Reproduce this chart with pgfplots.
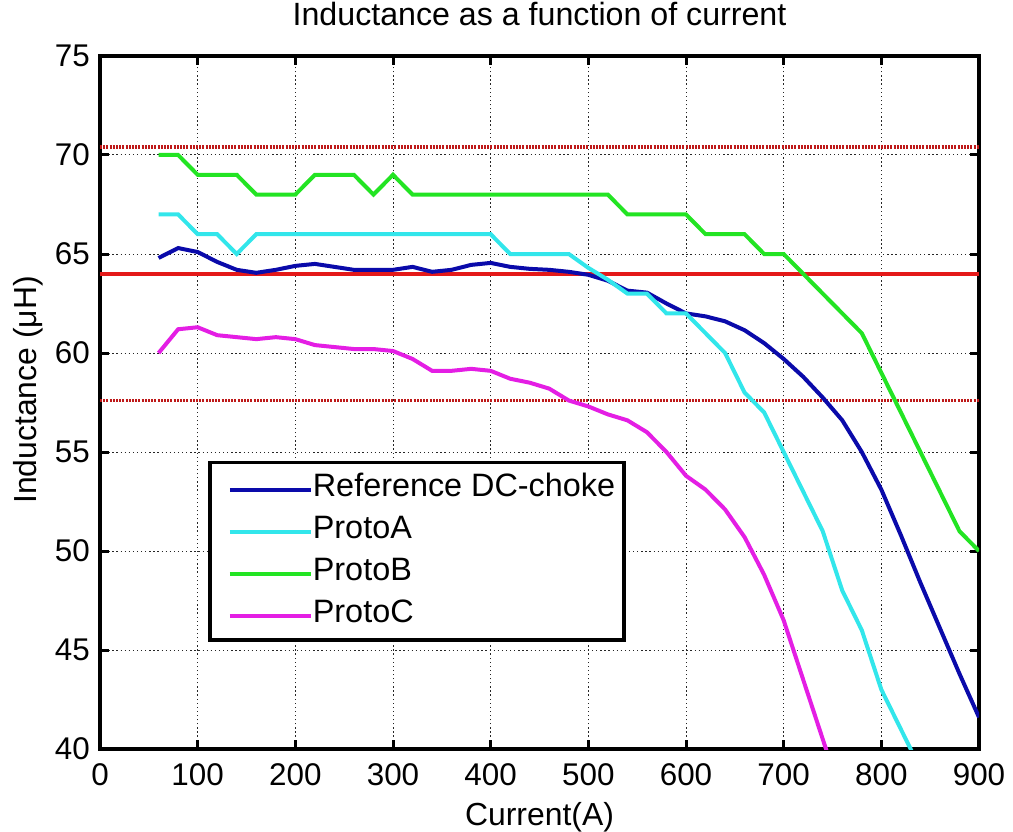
\documentclass[border=0pt]{standalone}
\usepackage{fontspec}
\setmainfont{Liberation Sans}
\usepackage{pgfplots}
\pgfplotsset{compat=1.18}
\definecolor{cblue}{RGB}{10,10,170}
\definecolor{ccyan}{RGB}{50,230,235}
\definecolor{cgreen}{RGB}{35,228,35}
\definecolor{cmag}{RGB}{228,30,228}
\definecolor{cred}{RGB}{228,25,25}
\definecolor{cdred}{RGB}{190,25,25}
\begin{document}
\begin{tikzpicture}
\begin{axis}[
  scale only axis, width=879bp, height=693bp,
  xmin=0, xmax=900, ymin=40, ymax=75,
  xtick={0,100,...,900}, ytick={40,45,...,75},
  tick align=inside, major tick length=9bp,
  every tick/.style={black, line width=3bp},
  axis line style={black, line width=3.2bp},
  grid=major,
  major grid style={black!85, line width=1bp, dash pattern=on 1.3bp off 2.8bp},
  tick label style={font=\fontsize{31.5}{36}\selectfont},
  /pgf/number format/assume math mode=true,
  xticklabel style={anchor=base, yshift=-36bp},
  yticklabel style={anchor=east, inner sep=0pt, xshift=-10bp},
  title={Inductance as a function of current},
  title style={font=\fontsize{32.3}{38}\selectfont, at={(axis description cs:0.5,1)}, anchor=base, yshift=25bp},
  xlabel={Current(A)},
  xlabel style={font=\fontsize{32}{38}\selectfont, at={(axis description cs:0.5,0)}, anchor=base, yshift=-76bp},
  ylabel={Inductance (μH)},
  ylabel style={font=\fontsize{32}{38}\selectfont, at={(axis description cs:-0.0717,0.518)}, anchor=base},
  legend style={at={(axis description cs:0.123,0.4156)}, anchor=north west, draw=black, line width=3.5bp,
    font=\fontsize{32.5}{38}\selectfont, inner xsep=9bp, inner ysep=11bp, row sep=11.8bp,
    nodes={inner sep=0pt, text height=23bp, text depth=7bp},
    /tikz/every even column/.append style={column sep=12bp}},
  legend cell align=left,
  legend image code/.code={\path (-9bp,0bp); \draw[#1] (0bp,-1.5bp) -- (81bp,-1.5bp);},
]
\addplot[forget plot, cred, line width=3.5bp] coordinates {(0,64) (900,64)};
\addplot[forget plot, cdred, line width=3.8bp, dash pattern=on 2bp off 1.2bp] coordinates {(0,70.4) (900,70.4)};
\addplot[forget plot, cdred, line width=3.8bp, dash pattern=on 2bp off 1.2bp] coordinates {(0,57.6) (900,57.6)};

\addplot[cblue, line width=4bp] coordinates {
(60,64.8) (80,65.3) (100,65.1) (120,64.6) (140,64.2) (160,64.05) (180,64.2) (200,64.4)
(220,64.5) (240,64.35) (260,64.2) (280,64.2) (300,64.2) (320,64.35) (340,64.1) (360,64.2)
(380,64.45) (400,64.55) (420,64.35) (440,64.25) (460,64.2) (480,64.1) (500,63.95) (520,63.65)
(540,63.15) (560,63.05) (580,62.5) (600,62.0) (620,61.85) (640,61.6) (660,61.15) (680,60.5)
(700,59.7) (720,58.8) (740,57.75) (760,56.6) (780,55.0) (800,53.1) (820,50.8) (840,48.4)
(860,46.1) (880,43.8) (900,41.6)};
\addlegendentry{Reference DC-choke}

\addplot[ccyan, line width=4bp] coordinates {
(60,67) (80,67) (100,66) (120,66) (140,65) (160,66) (180,66) (200,66) (220,66) (240,66)
(260,66) (280,66) (300,66) (320,66) (340,66) (360,66) (380,66) (400,66) (420,65) (440,65)
(460,65) (480,65) (500,64.3) (520,63.7) (540,63) (560,63) (580,62) (600,62) (620,61) (640,60)
(660,58) (680,57) (700,55) (720,53) (740,51) (760,48) (780,46) (800,43) (820,41) (840,39)};
\addlegendentry{ProtoA}

\addplot[cgreen, line width=4bp] coordinates {
(60,70) (80,70) (100,69) (120,69) (140,69) (160,68) (180,68) (200,68) (220,69) (240,69)
(260,69) (280,68) (300,69) (320,68) (340,68) (360,68) (380,68) (400,68) (420,68) (440,68)
(460,68) (480,68) (500,68) (520,68) (540,67) (560,67) (580,67) (600,67) (620,66) (640,66)
(660,66) (680,65) (700,65) (720,64) (740,63) (760,62) (780,61) (800,59) (820,57) (840,55)
(860,53) (880,51) (900,50)};
\addlegendentry{ProtoB}

\addplot[cmag, line width=4bp] coordinates {
(60,60.0) (80,61.2) (100,61.3) (120,60.9) (140,60.8) (160,60.7) (180,60.8) (200,60.7)
(220,60.4) (240,60.3) (260,60.2) (280,60.2) (300,60.1) (320,59.7) (340,59.1) (360,59.1)
(380,59.2) (400,59.1) (420,58.7) (440,58.5) (460,58.2) (480,57.6) (500,57.3) (520,56.9)
(540,56.6) (560,56.0) (580,55.0) (600,53.8) (620,53.1) (640,52.1) (660,50.7) (680,48.8)
(700,46.5) (720,43.5) (740,40.5) (760,37.5)};
\addlegendentry{ProtoC}
\end{axis}
\pgfresetboundingbox
\path ([shift={(-100bp,-82bp)}]current axis.south west) rectangle ([shift={(34bp,56bp)}]current axis.north east);
\end{tikzpicture}
\end{document}
